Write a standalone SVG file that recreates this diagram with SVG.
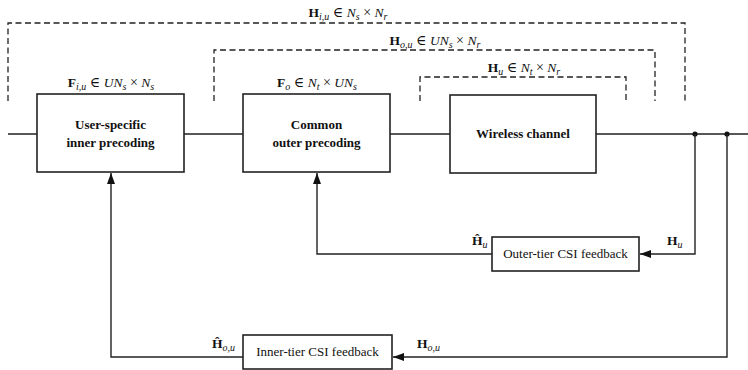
<svg xmlns="http://www.w3.org/2000/svg" width="748" height="370" viewBox="0 0 748 370">
<defs>
<style>
.box{fill:#fff;stroke:#222;stroke-width:1.6}
.ln{fill:none;stroke:#222;stroke-width:1.4}
.ds{fill:none;stroke:#222;stroke-width:1.3;stroke-dasharray:6 3.5}
.bl{font-family:"Liberation Serif","DejaVu Serif",serif;font-size:13px;font-weight:bold;fill:#111;text-anchor:middle}
.rl{font-family:"Liberation Serif","DejaVu Serif",serif;font-size:13px;fill:#111;text-anchor:middle}
.m{font-family:"Liberation Serif","DejaVu Serif",serif;font-size:13.5px;font-style:italic;fill:#111}
.c{text-anchor:middle}
.mb{font-weight:bold;font-style:normal}
.s{font-size:10px}
.op{font-style:normal;font-size:14px}
</style>
<marker id="ah" markerUnits="userSpaceOnUse" markerWidth="12" markerHeight="9" refX="11" refY="4" orient="auto">
<path d="M0,0 L11,4 L0,8 z" fill="#111"/>
</marker>
</defs>
<rect width="748" height="370" fill="#fff"/>

<g id="connectors">
<path class="ln" d="M8,134 H37 M184,134 H243 M390,134 H450 M596,134 H748"/>
<circle cx="695" cy="134" r="2.6" fill="#111"/>
<circle cx="727" cy="134" r="2.6" fill="#111"/>
<path class="ln" d="M695,134 V254 H640" marker-end="url(#ah)"/>
<path class="ln" d="M492,254 H317 V173" marker-end="url(#ah)"/>
<path class="ln" d="M727,134 V357 H393" marker-end="url(#ah)"/>
<path class="ln" d="M243,357 H111 V173" marker-end="url(#ah)"/>
<path class="ds" d="M8,101 V23 H685 V101"/>
<path class="ds" d="M214,101 V50 H655 V101"/>
<path class="ds" d="M420,101 V77 H626 V101"/>
</g>

<g id="inner-precoding">
<rect class="box" x="37" y="94" width="147" height="78"/>
<text class="bl" x="110.5" y="129">User-specific</text>
<text class="bl" x="110.5" y="147">inner precoding</text>
</g>
<g id="outer-precoding">
<rect class="box" x="243" y="94" width="147" height="78"/>
<text class="bl" x="316.5" y="129">Common</text>
<text class="bl" x="316.5" y="147">outer precoding</text>
</g>
<g id="wireless-channel">
<rect class="box" x="450" y="95" width="146" height="78"/>
<text class="bl" x="523" y="138">Wireless channel</text>
</g>
<g id="outer-feedback">
<rect class="box" x="492" y="237" width="147" height="34"/>
<text class="rl" x="565.5" y="258">Outer-tier CSI feedback</text>
</g>
<g id="inner-feedback">
<rect class="box" x="243" y="335" width="149" height="34"/>
<text class="rl" x="317.5" y="356">Inner-tier CSI feedback</text>
</g>

<g id="labels">
<text class="m c" x="348" y="17"><tspan class="mb">H</tspan><tspan class="s" dy="2.5">i,u</tspan><tspan class="op" dy="-2.5"> ∈ </tspan>N<tspan class="s" dy="2.5">s</tspan><tspan class="op" dy="-2.5"> × </tspan>N<tspan class="s" dy="2.5">r</tspan></text>
<text class="m c" x="435" y="45"><tspan class="mb">H</tspan><tspan class="s" dy="2.5">o,u</tspan><tspan class="op" dy="-2.5"> ∈ </tspan>UN<tspan class="s" dy="2.5">s</tspan><tspan class="op" dy="-2.5"> × </tspan>N<tspan class="s" dy="2.5">r</tspan></text>
<text class="m c" x="524" y="72"><tspan class="mb">H</tspan><tspan class="s" dy="2.5">u</tspan><tspan class="op" dy="-2.5"> ∈ </tspan>N<tspan class="s" dy="2.5">t</tspan><tspan class="op" dy="-2.5"> × </tspan>N<tspan class="s" dy="2.5">r</tspan></text>
<text class="m c" x="111" y="87"><tspan class="mb">F</tspan><tspan class="s" dy="2.5">i,u</tspan><tspan class="op" dy="-2.5"> ∈ </tspan>UN<tspan class="s" dy="2.5">s</tspan><tspan class="op" dy="-2.5"> × </tspan>N<tspan class="s" dy="2.5">s</tspan></text>
<text class="m c" x="317" y="87"><tspan class="mb">F</tspan><tspan class="s" dy="2.5">o</tspan><tspan class="op" dy="-2.5"> ∈ </tspan>N<tspan class="s" dy="2.5">t</tspan><tspan class="op" dy="-2.5"> × </tspan>UN<tspan class="s" dy="2.5">s</tspan></text>
<text class="m" x="472" y="245"><tspan class="mb">Ĥ</tspan><tspan class="s" dy="2.5">u</tspan></text>
<text class="m" x="667" y="245"><tspan class="mb">H</tspan><tspan class="s" dy="2.5">u</tspan></text>
<text class="m" x="212" y="348"><tspan class="mb">Ĥ</tspan><tspan class="s" dy="2.5">o,u</tspan></text>
<text class="m" x="417" y="348"><tspan class="mb">H</tspan><tspan class="s" dy="2.5">o,u</tspan></text>
</g>
</svg>
